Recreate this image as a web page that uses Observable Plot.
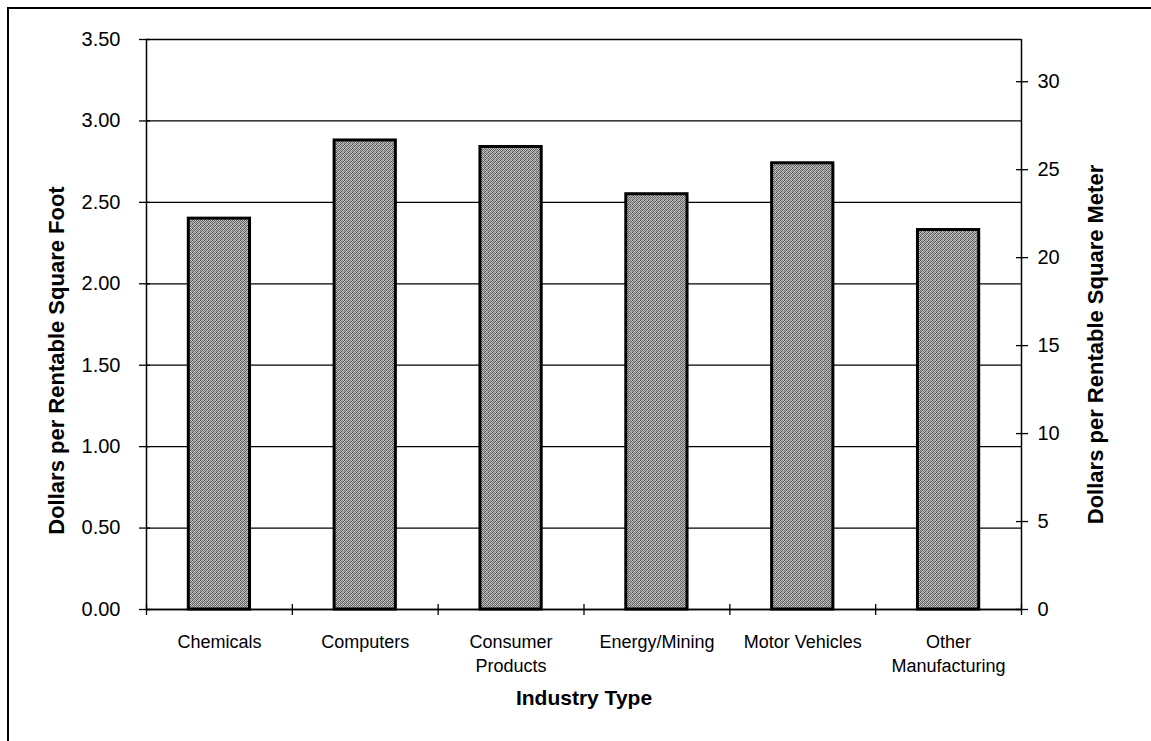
<!DOCTYPE html>
<html><head><meta charset="utf-8">
<script src="https://cdn.jsdelivr.net/npm/d3@7"></script>
<script src="https://cdn.jsdelivr.net/npm/@observablehq/plot@0.6"></script>
<style>
html,body{margin:0;padding:0;background:#fff;overflow:hidden;width:1151px;height:741px;}
#frame{position:absolute;left:7px;top:7px;width:1300px;height:900px;border-left:2px solid #000;border-top:2px solid #000;}
#chart{position:absolute;left:0;top:0;}
</style></head><body>
<svg width="0" height="0" style="position:absolute"><defs>
<pattern id="stipple" width="4" height="4" patternUnits="userSpaceOnUse">
<rect width="4" height="4" fill="#c6c6c6"/>
<rect x="0" y="0" width="1" height="1" fill="#555"/><rect x="2" y="0" width="1" height="1" fill="#777"/>
<rect x="1" y="1" width="1" height="1" fill="#666"/><rect x="3" y="1" width="1" height="1" fill="#555"/>
<rect x="0" y="2" width="1" height="1" fill="#777"/><rect x="2" y="2" width="1" height="1" fill="#555"/>
<rect x="1" y="3" width="1" height="1" fill="#555"/><rect x="3" y="3" width="1" height="1" fill="#888"/>
<rect x="2" y="1" width="1" height="1" fill="#b0b0b0"/><rect x="0" y="3" width="1" height="1" fill="#a0a0a0"/>
</pattern></defs></svg>
<div id="frame"></div><div id="chart"></div>
<script>
const categories = ["Chemicals", "Computers", "Consumer\nProducts", "Energy/Mining", "Motor Vehicles", "Other\nManufacturing"];
const values = [2.40, 2.88, 2.84, 2.55, 2.74, 2.33];
const leftTicks = [0, 0.5, 1, 1.5, 2, 2.5, 3, 3.5];
const rightTicks = [0, 5, 10, 15, 20, 25, 30];
const leftMax = 3.5;
const rightMax = 32.4;
const xTitle = "Industry Type";
const yTitle = "Dollars per Rentable Square Foot";
const y2Title = "Dollars per Rentable Square Meter";

const data = categories.map((c, i) => ({c, i, v: values[i]}));
const k = leftMax / rightMax;
const font = "'Liberation Sans', Arial, sans-serif";

const chart = Plot.plot({
  width: 1151,
  height: 741,
  marginLeft: 146,
  marginRight: 130,
  marginTop: 39,
  marginBottom: 132,
  style: {fontFamily: font, color: "#000", background: "transparent", overflow: "visible"},
  x: {domain: [0, categories.length], axis: null},
  y: {domain: [0, leftMax], axis: null},
  marks: [
    Plot.ruleY(leftTicks, {stroke: "#000", strokeWidth: 1.3}),
    Plot.ruleX([0, categories.length], {stroke: "#000", strokeWidth: 1.5}),
    Plot.rectY(data, {x1: d => d.i + 0.29, x2: d => d.i + 0.71, y1: 0, y2: "v",
      fill: "url(#stipple)", stroke: "#000", strokeWidth: 3}),
    Plot.ruleY([0], {stroke: "#000", strokeWidth: 1.5}),
    Plot.axisY({ticks: leftTicks, anchor: "left", tickSize: 11, dx: 4, tickPadding: 19,
      tickFormat: d3.format(".2f"), fontSize: 20, label: null, strokeWidth: 1.3}),
    Plot.axisY({ticks: rightTicks.map(v => v * k), anchor: "right", tickSize: 12, dx: -6, tickPadding: 10,
      tickFormat: d => String(Math.round(d / k)), fontSize: 20, label: null, strokeWidth: 1.3}),
    Plot.axisX({ticks: d3.range(categories.length + 1), anchor: "bottom", tickSize: 11, dy: -5,
      tickFormat: () => "", label: null, strokeWidth: 1.3}),
    Plot.text(data, {x: d => d.i + 0.5, frameAnchor: "bottom", text: "c", dy: 22,
      lineAnchor: "top", fontSize: 18, lineHeight: 1.33}),
    Plot.text([xTitle], {frameAnchor: "bottom", dy: 81, lineAnchor: "top",
      fontWeight: "bold", fontSize: 21}),
    Plot.text([yTitle], {frameAnchor: "left", textAnchor: "middle", rotate: -90, dx: -90, dy: 36,
      fontWeight: "bold", fontSize: 22}),
    Plot.text([y2Title], {frameAnchor: "right", textAnchor: "middle", rotate: -90, dx: 74, dy: 20,
      fontWeight: "bold", fontSize: 22})
  ]
});
document.getElementById("chart").appendChild(chart);
</script>
</body></html>
